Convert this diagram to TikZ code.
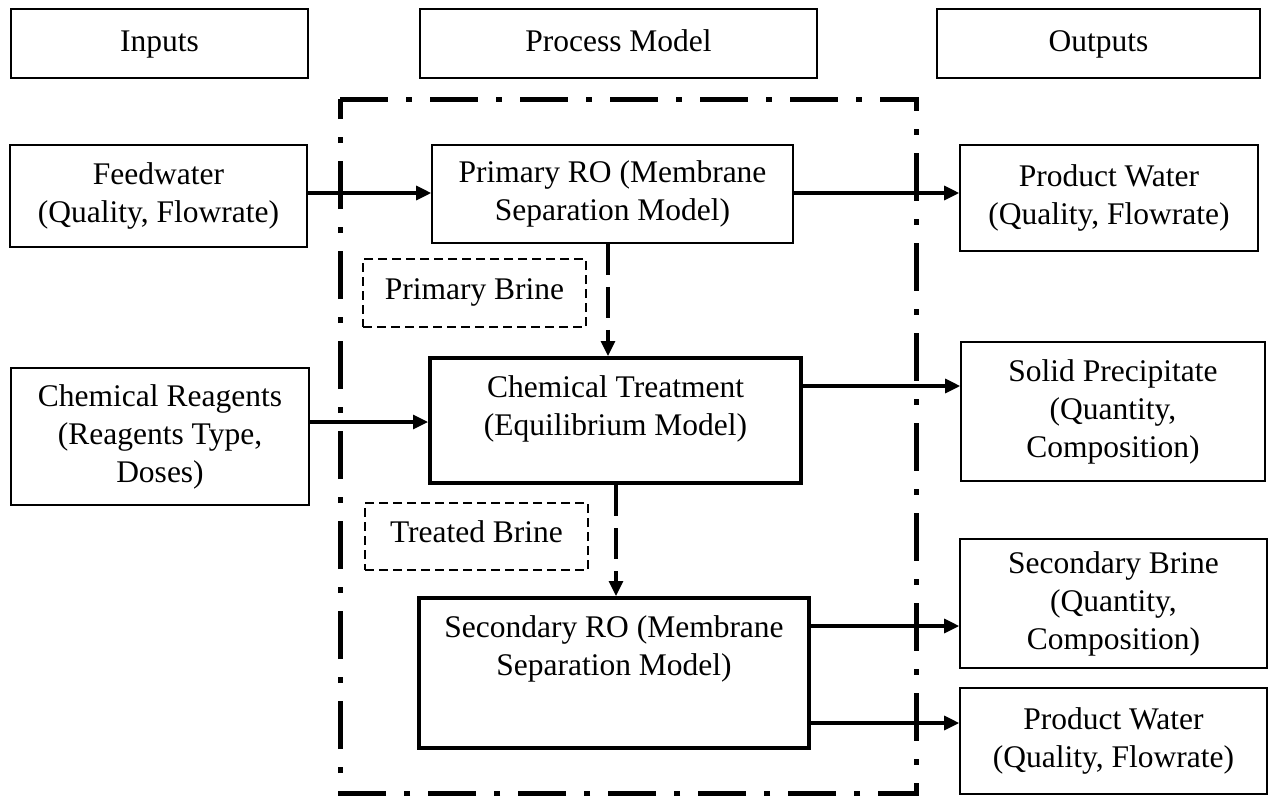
\documentclass[tikz,border=0pt]{standalone}
\usepackage{fontspec}
\setmainfont{Liberation Serif}
\usetikzlibrary{arrows.meta}
\begin{document}
\begin{tikzpicture}[x=1pt,y=-1pt,
  box/.style={draw, line width=1.6pt, inner sep=0pt, align=center, font=\fontsize{31.5}{38}\selectfont},
  hbox/.style={box, text height=22pt, text depth=7pt},
  thickbox/.style={draw, line width=4pt, inner sep=0pt},
  dbox/.style={box, dash pattern=on 9pt off 5pt, line width=1.3pt, text height=22pt, text depth=10pt},
  txt/.style={inner sep=0pt, align=center, font=\fontsize{31.5}{38}\selectfont},
  arr/.style={line width=3.2pt, -{Triangle[length=15pt,width=14pt]}},
  darr/.style={arr, dash pattern=on 31pt off 12pt},
  border/.style={line width=5pt, dash pattern=on 48pt off 18pt on 6pt off 18pt}
]
\fill[white] (0,0) rectangle (1270,796);
\useasboundingbox (0,0) rectangle (1270,796);

% dash-dot process boundary
\draw[border] (340,99) -- (916,99) -- (916,793) -- (340,793) -- cycle;

% headers
\node[hbox, minimum width=297pt, minimum height=69pt] (inputs) at (159.5,43.5) {Inputs};
\node[hbox, minimum width=397pt, minimum height=69pt] (process) at (618.5,43.5) {Process Model};
\node[hbox, minimum width=323pt, minimum height=69pt] (outputs) at (1098.5,43.5) {Outputs};

% inputs
\node[box, minimum width=297pt, minimum height=102pt] (feed) at (158.5,196) {Feedwater\\(Quality, Flowrate)};
\node[box, minimum width=298pt, minimum height=137pt] (reag) at (160,436.5) {Chemical Reagents\\(Reagents Type,\\Doses)};

% process
\node[box, minimum width=361pt, minimum height=98pt] (pro1) at (612.5,194) {Primary RO (Membrane\\Separation Model)};
\node[dbox, minimum width=223pt, minimum height=68pt] (pbrine) at (474.5,293) {Primary Brine};
\node[thickbox, minimum width=371pt, minimum height=125pt] (chem) at (615.5,420.5) {};
\node[txt] (chemtxt) at (615.5,409) {Chemical Treatment\\(Equilibrium Model)};
\node[dbox, minimum width=223pt, minimum height=67pt] (tbrine) at (476.5,536.5) {Treated Brine};
\node[thickbox, minimum width=390pt, minimum height=150pt] (sec) at (614,673) {};
\node[txt] (sectxt) at (614,649) {Secondary RO (Membrane\\Separation Model)};

% outputs
\node[box, minimum width=298pt, minimum height=106pt] (pw1) at (1109,198) {Product Water\\(Quality, Flowrate)};
\node[box, minimum width=304pt, minimum height=139pt] (solid) at (1113,411.5) {Solid Precipitate\\(Quantity,\\Composition)};
\node[box, minimum width=307pt, minimum height=129pt] (sbrine) at (1113.5,603.5) {Secondary Brine\\(Quantity,\\Composition)};
\node[box, minimum width=307pt, minimum height=106pt] (pw2) at (1113.5,741) {Product Water\\(Quality, Flowrate)};

% connectors
\draw[arr] (feed.east |- 0,193) -- (pro1.west |- 0,193);
\draw[arr] (pro1.east |- 0,193) -- (pw1.west |- 0,193);
\draw[darr] (pro1.south -| 608,0) -- (chem.north -| 608,0);
\draw[arr] (reag.east |- 0,422) -- (chem.west |- 0,422);
\draw[arr] (chem.east |- 0,386) -- (solid.west |- 0,386);
\draw[darr] (chem.south -| 616,0) -- (sec.north -| 616,0);
\draw[arr] (sec.east |- 0,626) -- (sbrine.west |- 0,626);
\draw[arr] (sec.east |- 0,723) -- (pw2.west |- 0,723);
\end{tikzpicture}
\end{document}
